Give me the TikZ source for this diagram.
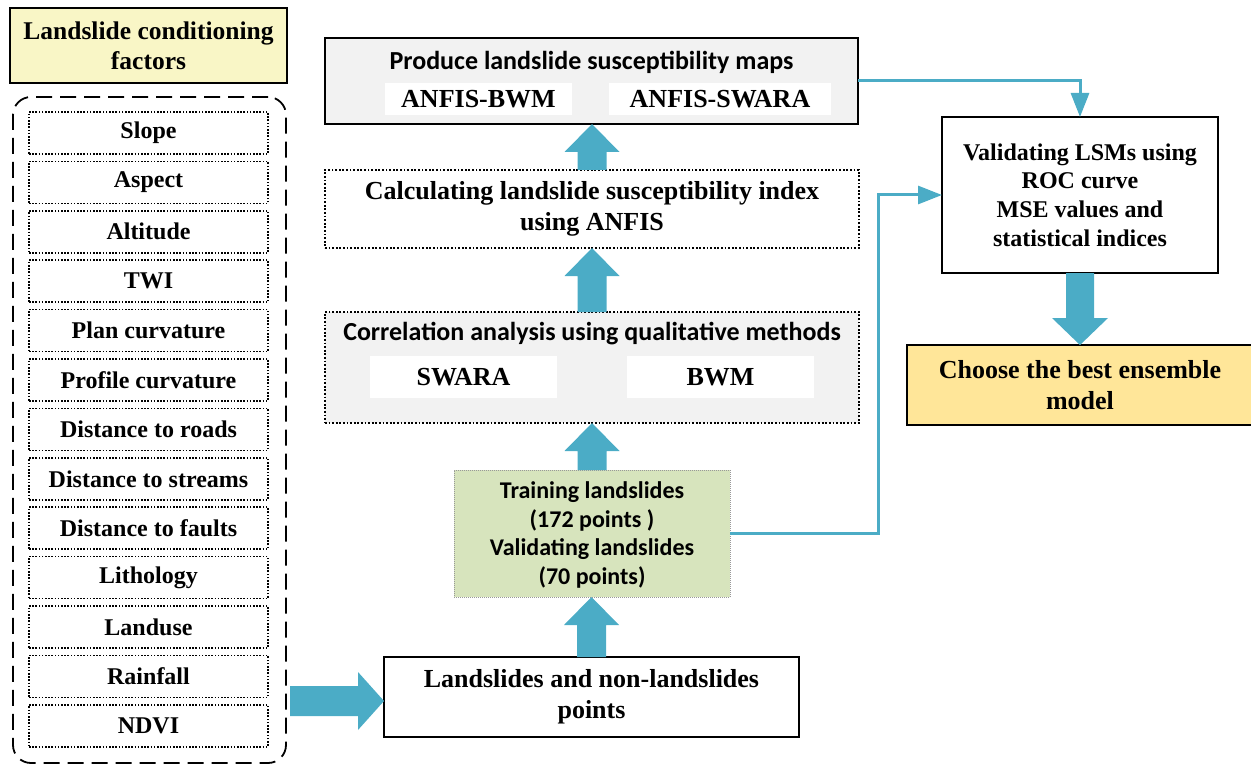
\documentclass[tikz,border=0pt]{standalone}
\usepackage{fontspec}
\setmainfont{Liberation Serif}
\newfontfamily\calfont{Carlito}
\usetikzlibrary{arrows.meta,calc}
\definecolor{arrowc}{HTML}{4BACC6}
\definecolor{boxgray}{HTML}{F2F2F2}
\definecolor{titleyellow}{HTML}{F9F6C6}
\definecolor{traingreen}{HTML}{D7E4BD}
\definecolor{choosegold}{HTML}{FFE699}
\newcommand{\blockup}[2]{\fill[arrowc] let \p1=(#1), \p2=(#2) in
  (\x1-14.5pt,\y1) -- (\x1-14.5pt,\y2-28pt) -- (\x1-27.5pt,\y2-28pt) -- (\x1,\y2)
  -- (\x1+27.5pt,\y2-28pt) -- (\x1+14.5pt,\y2-28pt) -- (\x1+14.5pt,\y1) -- cycle;}
\newcommand{\blockdown}[2]{\fill[arrowc] let \p1=(#1), \p2=(#2) in
  (\x1-14pt,\y1) -- (\x1-14pt,\y2+27pt) -- (\x1-28pt,\y2+27pt) -- (\x1,\y2)
  -- (\x1+28pt,\y2+27pt) -- (\x1+14pt,\y2+27pt) -- (\x1+14pt,\y1) -- cycle;}
\newcommand{\blockright}[2]{\fill[arrowc] let \p1=(#1), \p2=(#2) in
  (\x1,\y2-15pt) -- (\x2-26pt,\y2-15pt) -- (\x2-26pt,\y2-29pt) -- (\x2,\y2)
  -- (\x2-26pt,\y2+29pt) -- (\x2-26pt,\y2+15pt) -- (\x1,\y2+15pt) -- cycle;}
\begin{document}
\begin{tikzpicture}[x=1pt,y=-1pt,
  every node/.style={inner sep=0pt,outer sep=0pt},
  blk/.style={anchor=north west},
  dotbox/.style={draw=black,line width=1.8pt,dash pattern=on 1.8pt off 1.8pt},
  factor/.style={blk,dotbox,line width=1.6pt,dash pattern=on 1.6pt off 1.6pt,
    minimum width=239pt,minimum height=42pt,font=\fontsize{24}{29}\selectfont\bfseries},
  whitebox/.style={blk,fill=white,minimum height=32pt,font=\fontsize{26}{31}\selectfont\bfseries},
  conn/.style={draw=arrowc,line width=3pt,-{Triangle[length=24pt,width=18pt]}},
  txt/.style={align=center,text=black}
]
\useasboundingbox (0,0) rectangle (1251,765);

% title and factor list
\node[blk,draw=black,line width=1.6pt,fill=titleyellow,minimum width=277pt,minimum height=75pt] (title) at (10,8) {};
\node[txt,font=\fontsize{25.5}{30}\selectfont\bfseries] (titletxt) at (title.center) {Landslide conditioning\\factors};
\node[blk,draw=black,line width=1.8pt,dash pattern=on 16pt off 8pt,rounded corners=18pt,minimum width=273pt,minimum height=666pt] (cont) at (13,97) {};
\foreach \t [count=\i from 0] in {Slope,Aspect,Altitude,TWI,Plan curvature,Profile curvature,Distance to roads,Distance to streams,Distance to faults,Lithology,Landuse,Rainfall,NDVI}{
  \node[factor] (f\i) at (29,112+\i*49.4) {\t};
}

% produce maps box
\node[blk,draw=black,line width=2pt,fill=boxgray,minimum width=533pt,minimum height=86pt] (prod) at (325,38) {};
\node[txt,font=\calfont\fontsize{26}{31}\selectfont\bfseries] (prodtitle) at (591.5,62) {Produce landslide susceptibility maps};
\node[whitebox,minimum width=187pt] (pbwm) at (385,83) {ANFIS-BWM};
\node[whitebox,minimum width=222pt] (pswara) at (609,83) {ANFIS-SWARA};

% calculating box
\node[blk,dotbox,fill=white,minimum width=534pt,minimum height=78pt] (calc) at (325,170) {};
\node[txt,font=\fontsize{26}{31}\selectfont\bfseries] (calctxt) at (calc.center) {Calculating landslide susceptibility index\\using ANFIS};

% correlation box
\node[blk,dotbox,fill=boxgray,minimum width=534pt,minimum height=111pt] (corr) at (325,312) {};
\node[txt,font=\calfont\fontsize{26}{31}\selectfont\bfseries] (corrtitle) at (592,334) {Correlation analysis using qualitative methods};
\node[whitebox,minimum width=187pt,minimum height=42pt] (cswara) at (370,356) {SWARA};
\node[whitebox,minimum width=187pt,minimum height=42pt] (cbwm) at (627,356) {BWM};

% training box
\node[blk,draw=gray!80,line width=0.9pt,dash pattern=on 1pt off 1pt,fill=traingreen,minimum width=276pt,minimum height=127pt] (train) at (454,470) {};
\node[txt,font=\calfont\fontsize{24}{28.7}\selectfont\bfseries] (traintxt) at ($(train.center)+(0,1.5)$) {Training landslides\\(172 points )\\Validating landslides\\(70 points)};

% landslides box
\node[blk,draw=black,line width=1.6pt,fill=white,minimum width=415pt,minimum height=80pt] (land) at (384,657) {};
\node[txt,font=\fontsize{26}{31}\selectfont\bfseries] (landtxt) at (land.center) {Landslides and non-landslides\\points};

% validating box
\node[blk,draw=black,line width=2.4pt,fill=white,minimum width=276pt,minimum height=156pt] (valid) at (942,117) {};
\node[txt,font=\fontsize{24}{28.7}\selectfont\bfseries] (validtxt) at (valid.center) {Validating LSMs using\\ROC curve\\MSE values and\\statistical indices};

% choose box
\node[blk,draw=black,line width=1.6pt,fill=choosegold,minimum width=348pt,minimum height=80pt] (choose) at (907,345) {};
\node[txt,font=\fontsize{26}{31.5}\selectfont\bfseries] (choosetxt) at (1080,385) {Choose the best ensemble\\model};

% block arrows
\blockup{calc.north}{prod.south}
\blockup{corr.north}{calc.south}
\blockup{train.north}{corr.south}
\blockup{land.north}{train.south}
\blockdown{valid.south}{choose.north}
\blockright{$(cont.east |- land.west)+(4,4)$}{$(land.west)+(0,4)$}

% thin connectors
\coordinate (bend) at (878,0);
\draw[conn] (prod.east) -| (valid.north);
\draw[conn] (train.east) -| (bend |- valid.west) -- (valid.west);
\end{tikzpicture}
\end{document}
